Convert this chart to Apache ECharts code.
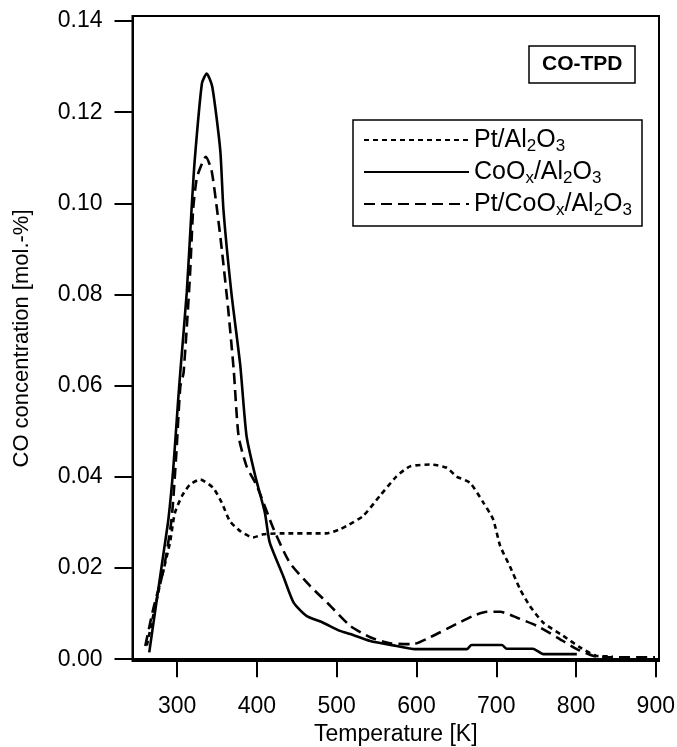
<!DOCTYPE html>
<html>
<head>
<meta charset="utf-8">
<title>CO-TPD</title>
<script src="https://cdn.jsdelivr.net/npm/echarts@6/dist/echarts.min.js"></script>
<style>
  html, body { margin: 0; padding: 0; background: #fff; }
  #chart { width: 677px; height: 747px; }
</style>
</head>
<body>
<div id="chart"></div>
<script>
// tick labels
const xTicks = [300, 400, 500, 600, 700, 800, 900];
const yTicks = [0, 0.02, 0.04, 0.06, 0.08, 0.10, 0.12, 0.14];

// Pt/Al2O3 (dotted)
const tempPt = [262, 278, 291, 297, 306, 316, 329, 345, 356, 366, 379, 395, 408, 429, 487, 504, 512, 533, 554, 575, 592, 617, 638, 650, 667, 684, 696, 705, 717, 730, 742, 759, 784, 805, 826, 846];
const concPt = [0.003, 0.016, 0.0256, 0.032, 0.0358, 0.0383, 0.0394, 0.0376, 0.0343, 0.0303, 0.0281, 0.0267, 0.0274, 0.0276, 0.0276, 0.0285, 0.0292, 0.0314, 0.0358, 0.0401, 0.0423, 0.0427, 0.042, 0.0401, 0.0387, 0.0343, 0.0307, 0.0248, 0.0204, 0.0153, 0.0117, 0.008, 0.0051, 0.0026, 0.0007, 0.0006];

// CoOx/Al2O3 (solid)
const tempCo = [265, 274, 283, 289, 295, 301, 304, 312, 318, 322, 331, 337, 344, 354, 358, 368, 379, 387, 398, 410, 416, 433, 446, 462, 483, 504, 517, 542, 575, 598, 663, 669, 707, 713, 746, 759, 801];
const concCo = [0.0015, 0.0125, 0.0234, 0.0307, 0.0416, 0.0563, 0.0632, 0.0804, 0.0986, 0.1095, 0.1263, 0.1285, 0.1256, 0.1117, 0.0986, 0.0803, 0.0646, 0.0489, 0.0401, 0.0321, 0.0256, 0.0182, 0.0124, 0.0095, 0.008, 0.0062, 0.0055, 0.004, 0.0029, 0.0022, 0.0022, 0.0031, 0.0031, 0.0023, 0.0023, 0.0011, 0.0011];

// Pt/CoOx/Al2O3 (dashed)
const tempPtCo = [260, 270, 283, 293, 299, 304, 308, 316, 320, 325, 336, 343, 350, 356, 364, 371, 377, 387, 400, 421, 441, 467, 488, 492, 517, 542, 567, 596, 617, 650, 671, 688, 705, 726, 751, 776, 801, 822, 838, 899];
const concPtCo = [0.0029, 0.011, 0.0197, 0.0307, 0.0453, 0.0599, 0.0628, 0.084, 0.0986, 0.1058, 0.1102, 0.1073, 0.0986, 0.0898, 0.0767, 0.0632, 0.0489, 0.0423, 0.038, 0.0285, 0.0212, 0.016, 0.0124, 0.0117, 0.0073, 0.0048, 0.0035, 0.0033, 0.0048, 0.0077, 0.0095, 0.0104, 0.0104, 0.0091, 0.0073, 0.0048, 0.0022, 0.0007, 0.0004, 0.0004];

const seriesNames = ['Pt/Al2O3', 'CoOx/Al2O3', 'Pt/CoOx/Al2O3'];
const legendLabels = {
  'Pt/Al2O3': 'Pt/Al{s|2}O{s|3}',
  'CoOx/Al2O3': 'CoO{s|x}/Al{s|2}O{s|3}',
  'Pt/CoOx/Al2O3': 'Pt/CoO{s|x}/Al{s|2}O{s|3}'
};

const FONT = '"Liberation Sans", Arial, Helvetica, sans-serif';

function pairs(xs, ys) {
  return xs.map((x, i) => [x, ys[i]]);
}

const chart = echarts.init(document.getElementById('chart'), null, { renderer: 'canvas' });

function lineSeries(name, data, dash) {
  return {
    name: name,
    type: 'line',
    data: data,
    symbol: 'none',
    showSymbol: false,
    smooth: 0.2,
    animation: false,
    lineStyle: { color: '#000', width: 2.6, type: dash },
    itemStyle: { color: '#000' }
  };
}

chart.setOption({
  animation: false,
  textStyle: { fontFamily: FONT, color: '#000' },
  title: {
    text: 'CO-TPD',
    left: 529,
    top: 46,
    padding: [8, 13],
    borderColor: '#000',
    borderWidth: 1.5,
    textStyle: { fontFamily: FONT, fontWeight: 'bold', fontSize: 21, color: '#000' }
  },
  legend: {
    data: seriesNames,
    orient: 'vertical',
    left: 353,
    top: 120,
    padding: [5, 10, 7, 10],
    itemGap: 2,
    itemWidth: 105,
    itemHeight: 14,
    borderColor: '#000',
    borderWidth: 1.5,
    selectedMode: false,
    itemStyle: { opacity: 0 },
    formatter: (name) => legendLabels[name],
    textStyle: {
      fontFamily: FONT,
      fontSize: 25,
      color: '#000',
      lineHeight: 30,
      rich: {
        s: { fontFamily: FONT, fontSize: 17, color: '#000', verticalAlign: 'bottom', lineHeight: 15 }
      }
    }
  },
  grid: {
    left: 132.5,
    right: 18,
    top: 16,
    bottom: 86,
    containLabel: false,
    outerBoundsMode: 'none',
    show: true,
    borderColor: '#000',
    borderWidth: 2,
    backgroundColor: '#fff'
  },
  xAxis: {
    type: 'value',
    min: 244,
    max: 904,
    name: 'Temperature [K]',
    nameLocation: 'middle',
    nameGap: 62,
    nameTextStyle: { fontFamily: FONT, fontSize: 23, color: '#000' },
    axisLine: { show: true, lineStyle: { color: '#000', width: 2 } },
    axisTick: { show: true, length: 18, lineStyle: { color: '#000', width: 2 }, customValues: xTicks },
    axisLabel: { fontFamily: FONT, fontSize: 23, color: '#000', margin: 34, customValues: xTicks },
    splitLine: { show: false }
  },
  yAxis: {
    type: 'value',
    min: -0.0004,
    max: 0.1411,
    name: 'CO concentration [mol.-%]',
    nameLocation: 'middle',
    nameGap: 100,
    nameTextStyle: { fontFamily: FONT, fontSize: 22, color: '#000' },
    axisLine: { show: true, lineStyle: { color: '#000', width: 2 } },
    axisTick: { show: true, length: 18, lineStyle: { color: '#000', width: 2 }, customValues: yTicks },
    axisLabel: {
      fontFamily: FONT, fontSize: 23, color: '#000', margin: 30,
      customValues: yTicks,
      formatter: (v) => v.toFixed(2)
    },
    splitLine: { show: false }
  },
  series: [
    lineSeries(seriesNames[0], pairs(tempPt, concPt), [5, 4]),
    lineSeries(seriesNames[1], pairs(tempCo, concCo), 'solid'),
    lineSeries(seriesNames[2], pairs(tempPtCo, concPtCo), [11, 6])
  ]
});
</script>
</body>
</html>
